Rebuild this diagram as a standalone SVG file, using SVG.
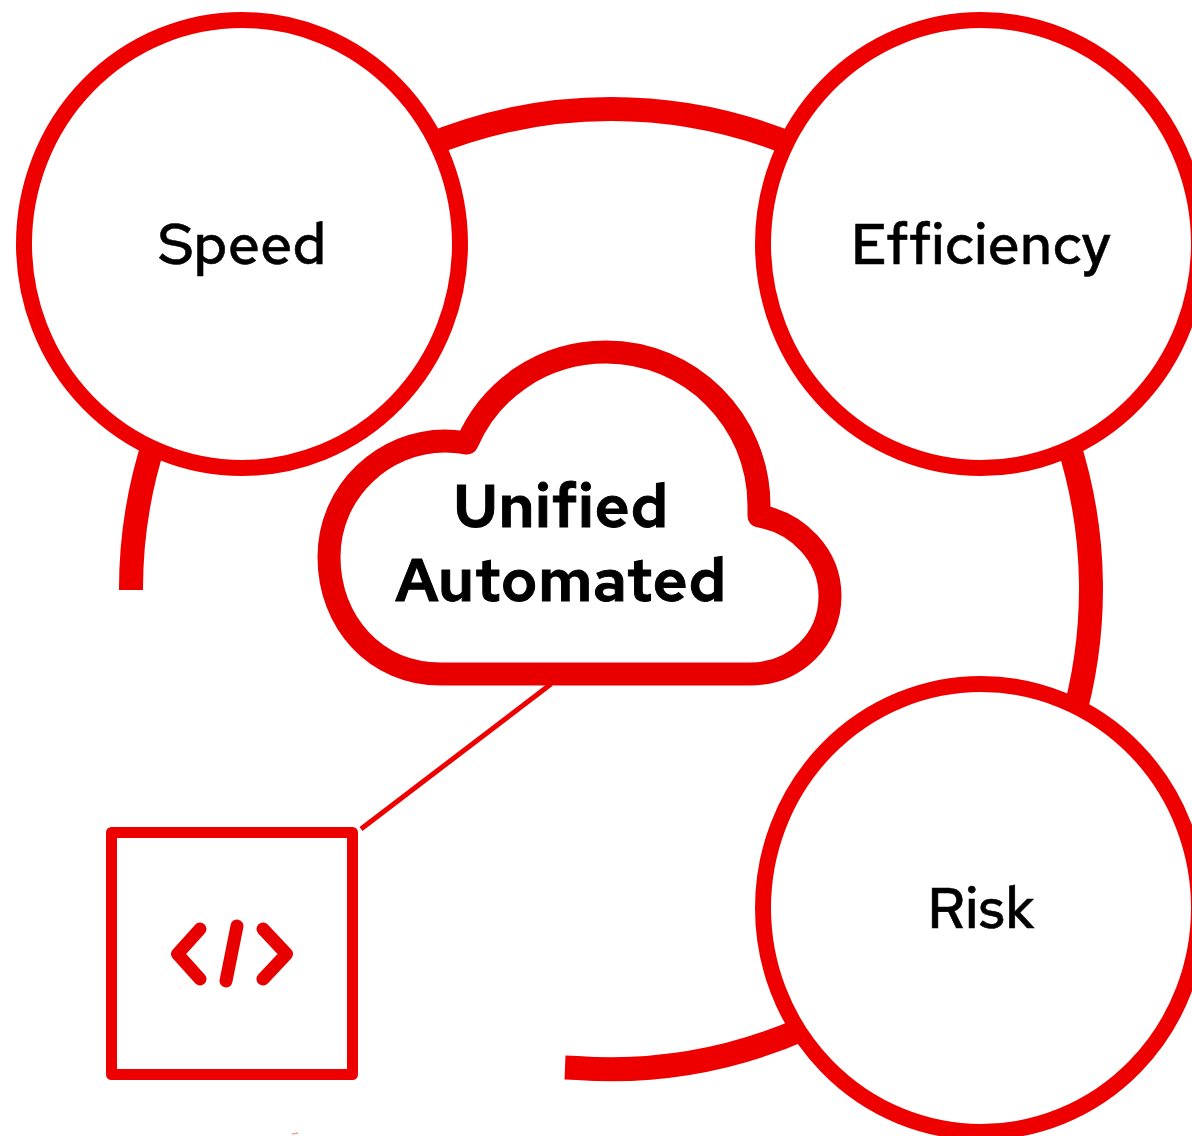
<svg xmlns="http://www.w3.org/2000/svg" width="1192" height="1136" viewBox="0 0 1192 1136">
<style>
.ring{fill:#fff;stroke:#ee0000;stroke-width:16}
.arc{fill:none;stroke:#ee0000;stroke-width:24}
.t{font-family:"Red Hat Text","Inter","Liberation Sans",sans-serif;font-size:57px;font-weight:500;fill:#000;stroke:#000;stroke-width:.6px;text-anchor:middle}
.b{font-weight:600;font-size:61px;letter-spacing:.6px;stroke-width:1px}
</style>
<rect width="1192" height="1136" fill="#fff"/>
<g id="connectors">
<path class="arc" d="M131 590A480 480 0 0 1 154.700 440"/>
<path class="arc" d="M425 146.500A480 480 0 0 1 797 146.500"/>
<path class="arc" d="M1067.300 440A480 480 0 0 1 1071.300 725"/>
<path class="arc" d="M805 1028A480 480 0 0 1 577 1068L565 1067.500"/>
<path d="M551 684L361 829" fill="none" stroke="#ee0000" stroke-width="5"/>
</g>
<g id="speed"><ellipse class="ring" cx="242" cy="244" rx="218" ry="224"/><text class="t" x="242" y="264">Speed</text></g>
<g id="efficiency"><ellipse class="ring" cx="981" cy="244" rx="218" ry="224"/><text class="t" x="981" y="264">Efficiency</text></g>
<g id="risk"><ellipse class="ring" cx="981" cy="908" rx="218" ry="224"/><text class="t" x="981" y="928">Risk</text></g>
<g id="cloud"><path d="M441 674C375 674 329 622 329 557C329 490 385 441 445 441C452 441 460 442 467 443C490 390 542 352 606 352C690 352 759 420 759 506C759 510 759 513 759 516C798 523 830 555 830 596C830 640 795 674 750 674Z" fill="#fff" stroke="#e80000" stroke-width="23" stroke-linejoin="round"/>
<text class="t b" x="561" y="527">Unified</text><text class="t b" x="561" y="601">Automated</text></g>
<g id="code"><rect x="111.500" y="832.500" width="241" height="242" fill="#fff" stroke="#ee0000" stroke-width="11" stroke-linejoin="round"/>
<path d="M200 929L177.500 954L200 979M263 929L286.500 954L263 979M237 926L226 981" fill="none" stroke="#e80000" stroke-width="13" stroke-linecap="round" stroke-linejoin="round"/></g>
<path d="M292 1134L298 1133" fill="none" stroke="#f4a0a0" stroke-width="1.500"/>
</svg>
